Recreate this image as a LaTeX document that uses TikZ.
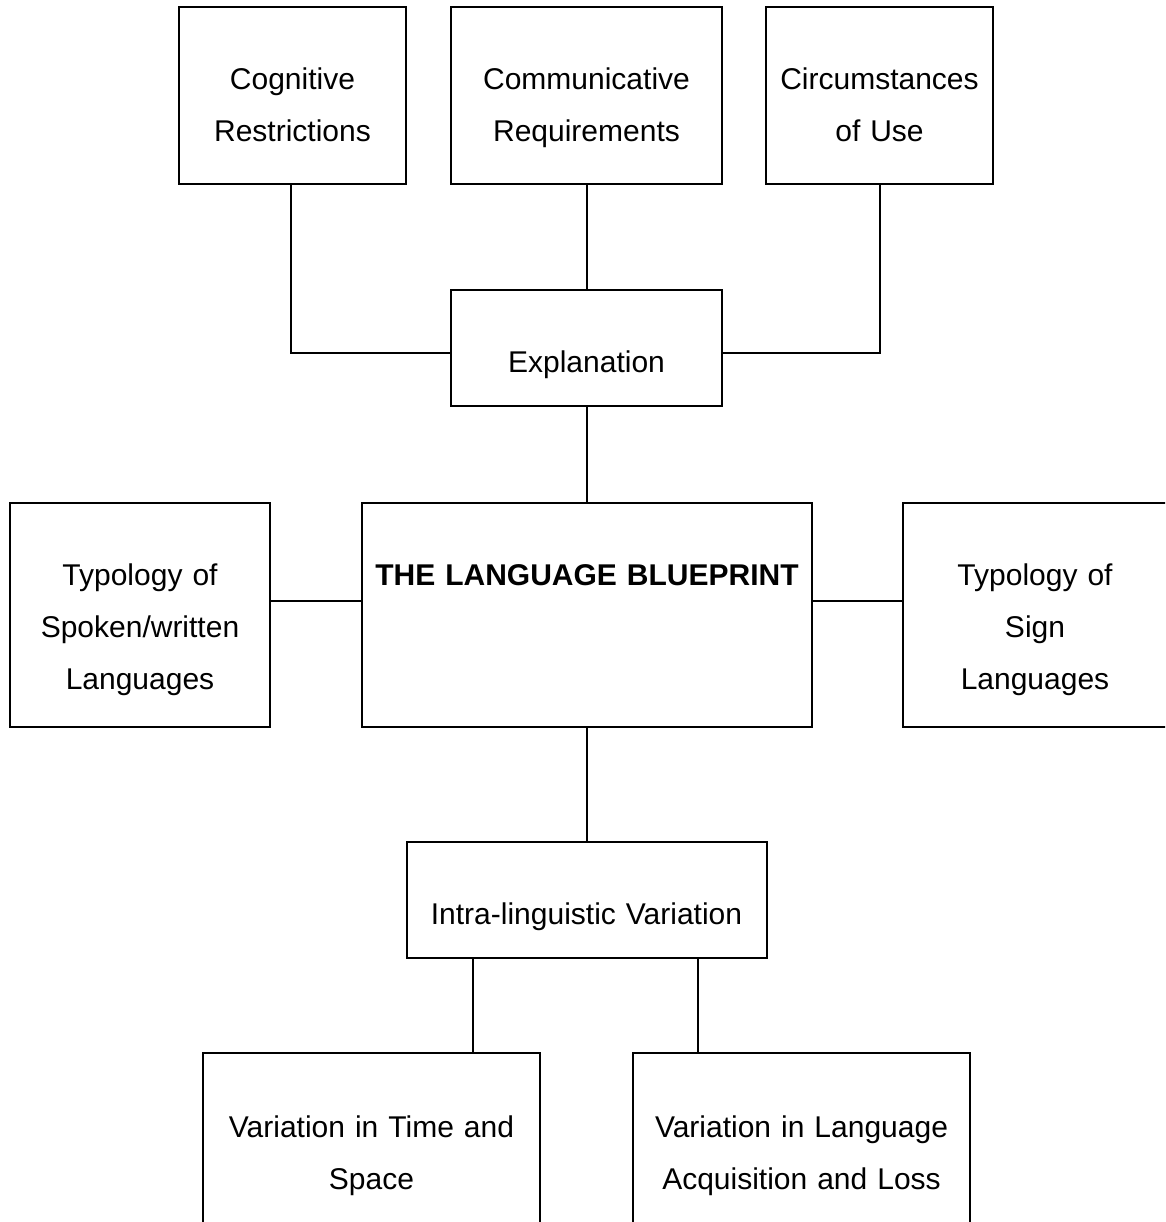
\documentclass[tikz,border=0pt]{standalone}
\usepackage{fontspec}
\setmainfont{Liberation Sans}
\begin{document}
\begin{tikzpicture}[x=1pt,y=-1pt,
  box/.style={draw=black, line width=2pt, inner sep=0pt, outer sep=0pt},
  txt/.style={inner sep=0pt, anchor=base, align=center, text width=#1,
    font=\fontsize{30}{52}\selectfont},
  txt/.default=400pt,
  conn/.style={draw=black, line width=2pt}]
\useasboundingbox (0,0) rectangle (1165,1222);
\clip (0,0) rectangle (1165,1222);
% boxes
\node[box, minimum width=227pt, minimum height=177pt] (cog) at (292.5,95.5) {};
\node[box, minimum width=271pt, minimum height=177pt] (com) at (586.5,95.5) {};
\node[box, minimum width=227pt, minimum height=177pt] (cir) at (879.5,95.5) {};
\node[box, minimum width=271pt, minimum height=116pt] (exp) at (586.5,348) {};
\node[box, minimum width=260pt, minimum height=224pt] (typA) at (140,615) {};
\node[box, minimum width=450pt, minimum height=224pt] (bp) at (586.5,615) {};
\node[box, minimum width=264pt, minimum height=224pt] (typB) at (1035,615) {};
\node[box, minimum width=360pt, minimum height=116pt] (intra) at (586.5,900) {};
\node[box, minimum width=337pt, minimum height=220pt] (varA) at (371.5,1163) {};
\node[box, minimum width=337pt, minimum height=220pt] (varB) at (801.5,1163) {};
% texts
\node[txt] (tcog) at (292.5,90) {Cognitive\\Restrictions};
\node[txt] (tcom) at (586.5,90) {Communicative\\Requirements};
\node[txt] (tcir) at (879.5,90) {Circumstances\\of Use};
\node[txt] (texp) at (586.5,372) {Explanation};
\node[txt] (ttypA) at (140,585) {Typology of\\Spoken/written\\Languages};
\node[txt=440pt, font=\fontsize{30}{52}\selectfont\bfseries] (tbp) at (587,585) {THE LANGUAGE BLUEPRINT};
\node[txt] (ttypB) at (1035,585) {Typology of\\Sign\\Languages};
\node[txt] (tintra) at (586.5,924) {Intra-linguistic Variation};
\node[txt] (tvarA) at (371.5,1137) {Variation in Time and\\Space};
\node[txt] (tvarB) at (801.5,1137) {Variation in Language\\Acquisition and Loss};
% connectors
\draw[conn] ([xshift=-2pt]cog.south) |- ([yshift=-5pt]exp.west);
\draw[conn] (com.south) -- (exp.north);
\draw[conn] (cir.south) |- ([yshift=-5pt]exp.east);
\draw[conn] (exp.south) -- (bp.north);
\draw[conn] ([yshift=14pt]typA.east) -- ([yshift=14pt]bp.west);
\draw[conn] ([yshift=14pt]bp.east) -- ([yshift=14pt]typB.west);
\draw[conn] (bp.south) -- (intra.north);
\draw[conn] ([xshift=-113.5pt]intra.south) -- ([xshift=-113.5pt]intra.south |- varA.north);
\draw[conn] ([xshift=111.5pt]intra.south) -- ([xshift=111.5pt]intra.south |- varB.north);
\end{tikzpicture}
\end{document}
